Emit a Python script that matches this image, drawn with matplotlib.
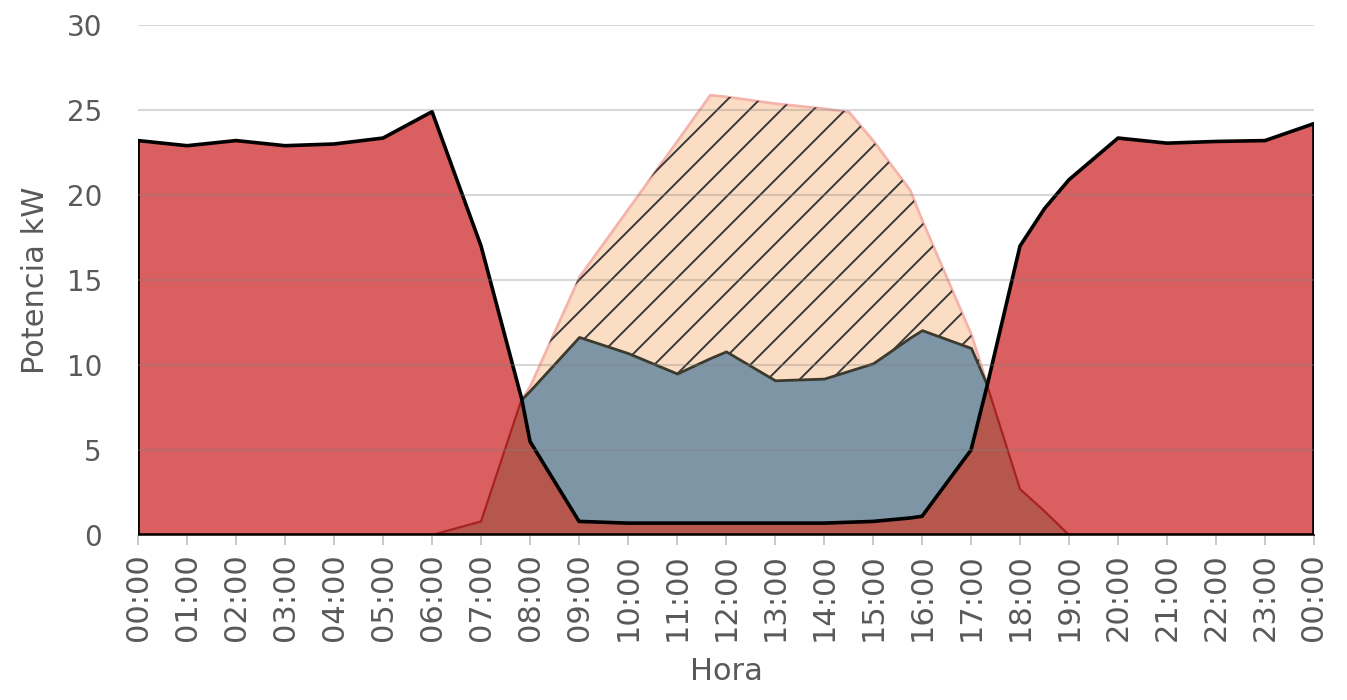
import numpy as np
import matplotlib
matplotlib.use("Agg")
import matplotlib.pyplot as plt
from matplotlib.lines import Line2D

# Hours of the day (decimal) where the curves have vertices
hours = [0, 1, 2, 3, 4, 5, 6, 7, 7.83, 8, 9, 10, 11, 11.67, 12, 13, 14, 14.5,
         15, 15.75, 16, 17, 17.33, 18, 18.5, 19, 20, 21, 22, 23, 24]

# Power drawn from the grid (kW)
red_kw = [23.2, 22.9, 23.2, 22.9, 23.0, 23.35, 24.9, 17.0, 8.0, 5.5, 0.8, 0.7, 0.7, 0.7,
          0.7, 0.7, 0.7, 0.75, 0.8, 1.0, 1.1, 5.0, 8.8, 17.0, 19.2, 20.9, 23.35, 23.05,
          23.15, 23.2, 24.2]

# PV generation (kW)
fv_kw = [0, 0, 0, 0, 0, 0, 0, 0.8, 8.0, 8.8, 15.2, 19.2, 23.2, 25.9, 25.8, 25.4, 25.1,
         24.9, 23.2, 20.3, 18.5, 11.8, 8.8, 2.7, 1.4, 0, 0, 0, 0, 0, 0]

# Self-consumed PV power (kW)
auto_kw = [0, 0, 0, 0, 0, 0, 0, 0.8, 8.0, 8.5, 11.65, 10.7, 9.5, 10.4, 10.8, 9.1, 9.2,
           9.65, 10.1, 11.6, 12.05, 11.0, 8.8, 2.7, 1.4, 0, 0, 0, 0, 0, 0]

tick_labels = ["%02d:00" % (h % 24) for h in range(25)]

x = np.array(hours)
red = np.array(red_kw)
fv = np.array(fv_kw)
auto = np.array(auto_kw)
overlap = np.minimum(fv, red)

plt.rcParams['font.family'] = ['DejaVu Sans']
text_gray = '#595959'

fig = plt.figure(figsize=(13.47, 7), dpi=100)
ax = fig.add_axes([0.1025, 0.2357, 0.873, 0.7286])
ax.set_xlim(0, 24)
ax.set_ylim(0, 30)

# PV area with diagonal hatching
fv_poly = ax.fill_between(x, 0, fv, facecolor='#FBDDC3', edgecolor='#F4B4AC',
                          linewidth=2, zorder=2)

# hatch lines at 45 degrees on screen, clipped to the PV area
px_h = 0.873 * 1347 / 24
px_kw = 0.7286 * 700 / 30
slope = px_h / px_kw
step = 32 / px_h
clip = fv_poly.get_paths()[0]
for c in np.arange(-6.0, 20.0, step):
    xs = np.array([c, c + 30 / slope])
    ln = Line2D(xs, (xs - c) * slope, color='#3A3A3A', linewidth=1.4, zorder=2.1)
    ax.add_line(ln)
    ln.set_clip_path(clip, ax.transData)

# self-consumption
ax.fill_between(x, 0, auto, facecolor='#7E95A6', edgecolor='#3B3A2C',
                linewidth=2, zorder=3)

# grid import
ax.fill_between(x, 0, red, facecolor='#D95F60', edgecolor='none', zorder=4)

# where PV and grid import overlap
ax.fill_between(x, 0, overlap, facecolor='#B5574D', edgecolor='none', zorder=5)
ax.plot(x, overlap, color='#A8231F', linewidth=1.6, zorder=5.1)

# grid import outline
ax.fill_between(x, 0, red, facecolor='none', edgecolor='black', linewidth=2.6,
                zorder=6)

# horizontal gridlines
for y in range(5, 31, 5):
    ax.axhline(y, color='#7F7F7F', alpha=0.3, linewidth=1.5, zorder=7)

for s in ax.spines.values():
    s.set_visible(False)

ax.set_xticks(range(25))
ax.set_xticklabels(tick_labels, rotation=90)
ax.set_yticks(range(0, 31, 5))
ax.tick_params(axis='x', colors='#BFBFBF', labelcolor=text_gray, length=7, width=1.2,
               pad=6, labelsize=22)
ax.tick_params(axis='y', length=0, labelcolor=text_gray, pad=26, labelsize=20)

ax.set_xlabel('Hora', color=text_gray, fontsize=22)
ax.set_ylabel('Potencia kW', color=text_gray, fontsize=22)
ax.xaxis.set_label_coords(0.5, -0.24)
ax.yaxis.set_label_coords(-0.075, 0.5)

fig.savefig('out.png', dpi=100)
